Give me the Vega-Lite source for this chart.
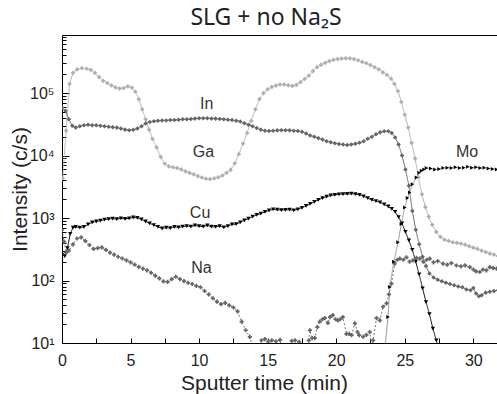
{
"$schema": "https://vega.github.io/schema/vega-lite/v6.json",
"width": 436, "height": 308,
"autosize": "none",
"padding": {"left": 62, "top": 35, "right": 0, "bottom": 51},
"background": "white",
"config": {"view": {"stroke": "#000", "strokeWidth": 1}, "font": "Liberation Sans"},
"title": {"text": "SLG + no Na₂S", "font": "Noto Sans", "fontSize": 23, "fontWeight": "normal", "color": "#222", "anchor": "middle", "dx": -14, "baseline": "alphabetic", "offset": 8, "dy": 27},
"datasets": {
"lab": [{"name":"In","t":10.55,"v":67900},{"name":"Ga","t":10.32,"v":11380},{"name":"Cu","t":10.07,"v":1225},{"name":"Na","t":10.17,"v":156},{"name":"Mo","t":29.54,"v":11380}],
"prof": [
{"s":"In","t":0.05,"v":4300},{"s":"In","t":0.3,"v":25000},{"s":"In","t":0.55,"v":140000},{"s":"In","t":0.8,"v":210000},{"s":"In","t":1.1,"v":240000},{"s":"In","t":1.45,"v":250000},{"s":"In","t":1.8,"v":245000},{"s":"In","t":2.1,"v":235000},{"s":"In","t":2.4,"v":210000},{"s":"In","t":2.7,"v":180000},{"s":"In","t":3.0,"v":157000},{"s":"In","t":3.3,"v":145000},{"s":"In","t":3.6,"v":133000},{"s":"In","t":3.9,"v":123000},{"s":"In","t":4.2,"v":118000},{"s":"In","t":4.5,"v":120000},{"s":"In","t":4.8,"v":128000},{"s":"In","t":5.1,"v":122000},{"s":"In","t":5.35,"v":105000},{"s":"In","t":5.6,"v":80000},{"s":"In","t":5.85,"v":55000},{"s":"In","t":6.1,"v":38000},{"s":"In","t":6.35,"v":26000},{"s":"In","t":6.6,"v":18500},{"s":"In","t":6.9,"v":13500},{"s":"In","t":7.2,"v":9500},{"s":"In","t":7.5,"v":7400},{"s":"In","t":7.8,"v":6700},{"s":"In","t":8.1,"v":6500},{"s":"In","t":8.4,"v":6300},{"s":"In","t":8.7,"v":6000},{"s":"In","t":9.0,"v":5600},{"s":"In","t":9.3,"v":5300},{"s":"In","t":9.6,"v":5000},{"s":"In","t":9.9,"v":4700},{"s":"In","t":10.2,"v":4450},{"s":"In","t":10.5,"v":4250},{"s":"In","t":10.8,"v":4200},{"s":"In","t":11.1,"v":4300},{"s":"In","t":11.4,"v":4500},{"s":"In","t":11.7,"v":4800},{"s":"In","t":12.0,"v":5300},{"s":"In","t":12.3,"v":5900},{"s":"In","t":12.6,"v":7500},{"s":"In","t":12.9,"v":10500},{"s":"In","t":13.2,"v":15500},{"s":"In","t":13.5,"v":23000},{"s":"In","t":13.8,"v":36000},{"s":"In","t":14.1,"v":55000},{"s":"In","t":14.4,"v":80000},{"s":"In","t":14.7,"v":100000},{"s":"In","t":15.0,"v":115000},{"s":"In","t":15.3,"v":125000},{"s":"In","t":15.6,"v":132000},{"s":"In","t":15.9,"v":137000},{"s":"In","t":16.2,"v":137000},{"s":"In","t":16.5,"v":133000},{"s":"In","t":16.8,"v":130000},{"s":"In","t":17.1,"v":135000},{"s":"In","t":17.4,"v":150000},{"s":"In","t":17.7,"v":168000},{"s":"In","t":18.0,"v":190000},{"s":"In","t":18.3,"v":225000},{"s":"In","t":18.6,"v":260000},{"s":"In","t":18.9,"v":285000},{"s":"In","t":19.2,"v":305000},{"s":"In","t":19.5,"v":325000},{"s":"In","t":19.8,"v":340000},{"s":"In","t":20.1,"v":350000},{"s":"In","t":20.4,"v":357000},{"s":"In","t":20.7,"v":360000},{"s":"In","t":21.0,"v":358000},{"s":"In","t":21.3,"v":350000},{"s":"In","t":21.6,"v":335000},{"s":"In","t":21.9,"v":315000},{"s":"In","t":22.2,"v":300000},{"s":"In","t":22.5,"v":280000},{"s":"In","t":22.8,"v":260000},{"s":"In","t":23.1,"v":240000},{"s":"In","t":23.4,"v":215000},{"s":"In","t":23.7,"v":195000},{"s":"In","t":24.0,"v":170000},{"s":"In","t":24.25,"v":140000},{"s":"In","t":24.5,"v":108000},{"s":"In","t":24.75,"v":72000},{"s":"In","t":25.0,"v":45000},{"s":"In","t":25.25,"v":28000},{"s":"In","t":25.5,"v":16000},{"s":"In","t":25.75,"v":9000},{"s":"In","t":26.0,"v":4500},{"s":"In","t":26.25,"v":2400},{"s":"In","t":26.5,"v":1500},{"s":"In","t":26.75,"v":1050},{"s":"In","t":27.0,"v":780},{"s":"In","t":27.3,"v":600},{"s":"In","t":27.6,"v":500},{"s":"In","t":27.9,"v":450},{"s":"In","t":28.2,"v":430},{"s":"In","t":28.5,"v":410},{"s":"In","t":28.8,"v":400},{"s":"In","t":29.1,"v":390},{"s":"In","t":29.4,"v":375},{"s":"In","t":29.7,"v":355},{"s":"In","t":30.0,"v":335},{"s":"In","t":30.3,"v":320},{"s":"In","t":30.6,"v":300},{"s":"In","t":30.9,"v":285},{"s":"In","t":31.2,"v":270},{"s":"In","t":31.5,"v":260},{"s":"In","t":31.8,"v":245},
{"s":"Ga","t":0.0,"v":58000},{"s":"Ga","t":0.25,"v":52000},{"s":"Ga","t":0.5,"v":38000},{"s":"Ga","t":0.75,"v":30000},{"s":"Ga","t":1.0,"v":28000},{"s":"Ga","t":1.3,"v":29500},{"s":"Ga","t":1.6,"v":30500},{"s":"Ga","t":1.9,"v":31000},{"s":"Ga","t":2.2,"v":30500},{"s":"Ga","t":2.5,"v":30500},{"s":"Ga","t":2.8,"v":30000},{"s":"Ga","t":3.1,"v":29500},{"s":"Ga","t":3.4,"v":29000},{"s":"Ga","t":3.7,"v":28500},{"s":"Ga","t":4.0,"v":28000},{"s":"Ga","t":4.3,"v":27000},{"s":"Ga","t":4.6,"v":26000},{"s":"Ga","t":4.9,"v":25500},{"s":"Ga","t":5.2,"v":25800},{"s":"Ga","t":5.5,"v":27000},{"s":"Ga","t":5.8,"v":29500},{"s":"Ga","t":6.1,"v":32500},{"s":"Ga","t":6.4,"v":34500},{"s":"Ga","t":6.7,"v":35500},{"s":"Ga","t":7.0,"v":36000},{"s":"Ga","t":7.3,"v":36500},{"s":"Ga","t":7.6,"v":36500},{"s":"Ga","t":7.9,"v":37000},{"s":"Ga","t":8.2,"v":37000},{"s":"Ga","t":8.5,"v":37500},{"s":"Ga","t":8.8,"v":38000},{"s":"Ga","t":9.1,"v":38000},{"s":"Ga","t":9.4,"v":38500},{"s":"Ga","t":9.7,"v":39000},{"s":"Ga","t":10.0,"v":39500},{"s":"Ga","t":10.3,"v":39500},{"s":"Ga","t":10.6,"v":39500},{"s":"Ga","t":10.9,"v":39000},{"s":"Ga","t":11.2,"v":39000},{"s":"Ga","t":11.5,"v":38500},{"s":"Ga","t":11.8,"v":38000},{"s":"Ga","t":12.1,"v":37500},{"s":"Ga","t":12.4,"v":37000},{"s":"Ga","t":12.7,"v":36000},{"s":"Ga","t":13.0,"v":35000},{"s":"Ga","t":13.3,"v":33000},{"s":"Ga","t":13.6,"v":31000},{"s":"Ga","t":13.9,"v":29500},{"s":"Ga","t":14.2,"v":27500},{"s":"Ga","t":14.5,"v":26000},{"s":"Ga","t":14.8,"v":25000},{"s":"Ga","t":15.1,"v":24800},{"s":"Ga","t":15.4,"v":25000},{"s":"Ga","t":15.7,"v":25300},{"s":"Ga","t":16.0,"v":25500},{"s":"Ga","t":16.3,"v":25500},{"s":"Ga","t":16.6,"v":25300},{"s":"Ga","t":16.9,"v":25000},{"s":"Ga","t":17.2,"v":24800},{"s":"Ga","t":17.5,"v":24000},{"s":"Ga","t":17.8,"v":22500},{"s":"Ga","t":18.1,"v":21000},{"s":"Ga","t":18.4,"v":20000},{"s":"Ga","t":18.7,"v":19000},{"s":"Ga","t":19.0,"v":18000},{"s":"Ga","t":19.3,"v":17000},{"s":"Ga","t":19.6,"v":16300},{"s":"Ga","t":19.9,"v":15800},{"s":"Ga","t":20.2,"v":15300},{"s":"Ga","t":20.5,"v":15000},{"s":"Ga","t":20.8,"v":14800},{"s":"Ga","t":21.1,"v":15000},{"s":"Ga","t":21.4,"v":15500},{"s":"Ga","t":21.7,"v":16000},{"s":"Ga","t":22.0,"v":17000},{"s":"Ga","t":22.3,"v":18500},{"s":"Ga","t":22.6,"v":20000},{"s":"Ga","t":22.9,"v":22000},{"s":"Ga","t":23.2,"v":23500},{"s":"Ga","t":23.5,"v":24500},{"s":"Ga","t":23.8,"v":24500},{"s":"Ga","t":24.05,"v":23000},{"s":"Ga","t":24.3,"v":19500},{"s":"Ga","t":24.55,"v":15000},{"s":"Ga","t":24.8,"v":10000},{"s":"Ga","t":25.05,"v":6000},{"s":"Ga","t":25.3,"v":3300},{"s":"Ga","t":25.55,"v":1300},{"s":"Ga","t":25.8,"v":650},{"s":"Ga","t":26.05,"v":380},{"s":"Ga","t":26.3,"v":240},{"s":"Ga","t":26.55,"v":170},{"s":"Ga","t":26.8,"v":130},{"s":"Ga","t":27.1,"v":112},{"s":"Ga","t":27.4,"v":103},{"s":"Ga","t":27.7,"v":97},{"s":"Ga","t":28.0,"v":92},{"s":"Ga","t":28.3,"v":88},{"s":"Ga","t":28.6,"v":84},{"s":"Ga","t":28.9,"v":80},{"s":"Ga","t":29.2,"v":78},{"s":"Ga","t":29.5,"v":72},{"s":"Ga","t":29.8,"v":70},{"s":"Ga","t":30.0,"v":76},{"s":"Ga","t":30.2,"v":62},{"s":"Ga","t":30.4,"v":56},{"s":"Ga","t":30.6,"v":58},{"s":"Ga","t":30.9,"v":64},{"s":"Ga","t":31.2,"v":66},{"s":"Ga","t":31.5,"v":68},{"s":"Ga","t":31.8,"v":70},
{"s":"Cu","t":0.0,"v":260},{"s":"Cu","t":0.2,"v":245},{"s":"Cu","t":0.4,"v":330},{"s":"Cu","t":0.6,"v":560},{"s":"Cu","t":0.8,"v":700},{"s":"Cu","t":1.0,"v":720},{"s":"Cu","t":1.3,"v":700},{"s":"Cu","t":1.6,"v":720},{"s":"Cu","t":1.9,"v":790},{"s":"Cu","t":2.2,"v":850},{"s":"Cu","t":2.5,"v":880},{"s":"Cu","t":2.8,"v":910},{"s":"Cu","t":3.1,"v":940},{"s":"Cu","t":3.4,"v":960},{"s":"Cu","t":3.7,"v":980},{"s":"Cu","t":4.0,"v":960},{"s":"Cu","t":4.3,"v":990},{"s":"Cu","t":4.6,"v":970},{"s":"Cu","t":4.9,"v":990},{"s":"Cu","t":5.2,"v":1020},{"s":"Cu","t":5.5,"v":1010},{"s":"Cu","t":5.8,"v":950},{"s":"Cu","t":6.1,"v":880},{"s":"Cu","t":6.4,"v":820},{"s":"Cu","t":6.7,"v":770},{"s":"Cu","t":7.0,"v":720},{"s":"Cu","t":7.3,"v":680},{"s":"Cu","t":7.6,"v":700},{"s":"Cu","t":7.9,"v":690},{"s":"Cu","t":8.2,"v":720},{"s":"Cu","t":8.5,"v":710},{"s":"Cu","t":8.8,"v":730},{"s":"Cu","t":9.1,"v":740},{"s":"Cu","t":9.4,"v":730},{"s":"Cu","t":9.7,"v":760},{"s":"Cu","t":10.0,"v":740},{"s":"Cu","t":10.3,"v":730},{"s":"Cu","t":10.6,"v":760},{"s":"Cu","t":10.9,"v":730},{"s":"Cu","t":11.2,"v":720},{"s":"Cu","t":11.5,"v":740},{"s":"Cu","t":11.8,"v":710},{"s":"Cu","t":12.1,"v":740},{"s":"Cu","t":12.4,"v":790},{"s":"Cu","t":12.7,"v":800},{"s":"Cu","t":13.0,"v":850},{"s":"Cu","t":13.3,"v":920},{"s":"Cu","t":13.6,"v":980},{"s":"Cu","t":13.9,"v":1050},{"s":"Cu","t":14.2,"v":1120},{"s":"Cu","t":14.5,"v":1180},{"s":"Cu","t":14.8,"v":1250},{"s":"Cu","t":15.1,"v":1320},{"s":"Cu","t":15.4,"v":1380},{"s":"Cu","t":15.7,"v":1360},{"s":"Cu","t":16.0,"v":1340},{"s":"Cu","t":16.3,"v":1350},{"s":"Cu","t":16.6,"v":1360},{"s":"Cu","t":16.9,"v":1330},{"s":"Cu","t":17.2,"v":1380},{"s":"Cu","t":17.5,"v":1460},{"s":"Cu","t":17.8,"v":1560},{"s":"Cu","t":18.1,"v":1680},{"s":"Cu","t":18.4,"v":1820},{"s":"Cu","t":18.7,"v":1950},{"s":"Cu","t":19.0,"v":2080},{"s":"Cu","t":19.3,"v":2200},{"s":"Cu","t":19.6,"v":2300},{"s":"Cu","t":19.9,"v":2350},{"s":"Cu","t":20.2,"v":2400},{"s":"Cu","t":20.5,"v":2420},{"s":"Cu","t":20.8,"v":2430},{"s":"Cu","t":21.1,"v":2450},{"s":"Cu","t":21.4,"v":2420},{"s":"Cu","t":21.7,"v":2350},{"s":"Cu","t":22.0,"v":2230},{"s":"Cu","t":22.3,"v":2080},{"s":"Cu","t":22.6,"v":1950},{"s":"Cu","t":22.9,"v":1870},{"s":"Cu","t":23.2,"v":1780},{"s":"Cu","t":23.5,"v":1650},{"s":"Cu","t":23.8,"v":1530},{"s":"Cu","t":24.05,"v":1400},{"s":"Cu","t":24.3,"v":1250},{"s":"Cu","t":24.55,"v":1030},{"s":"Cu","t":24.8,"v":820},{"s":"Cu","t":25.05,"v":600},{"s":"Cu","t":25.3,"v":440},{"s":"Cu","t":25.55,"v":310},{"s":"Cu","t":25.8,"v":200},{"s":"Cu","t":26.05,"v":125},{"s":"Cu","t":26.3,"v":75},{"s":"Cu","t":26.55,"v":45},{"s":"Cu","t":26.8,"v":29},{"s":"Cu","t":27.05,"v":17},{"s":"Cu","t":27.3,"v":11},{"s":"Cu","t":27.5,"v":8},
{"s":"Na","t":0.0,"v":650},{"s":"Na","t":0.15,"v":420},{"s":"Na","t":0.3,"v":280},{"s":"Na","t":0.5,"v":300},{"s":"Na","t":0.8,"v":380},{"s":"Na","t":1.1,"v":470},{"s":"Na","t":1.4,"v":490},{"s":"Na","t":1.7,"v":430},{"s":"Na","t":2.0,"v":370},{"s":"Na","t":2.3,"v":320},{"s":"Na","t":2.6,"v":330},{"s":"Na","t":2.9,"v":340},{"s":"Na","t":3.2,"v":310},{"s":"Na","t":3.5,"v":280},{"s":"Na","t":3.8,"v":260},{"s":"Na","t":4.1,"v":240},{"s":"Na","t":4.4,"v":225},{"s":"Na","t":4.7,"v":210},{"s":"Na","t":5.0,"v":195},{"s":"Na","t":5.3,"v":180},{"s":"Na","t":5.6,"v":165},{"s":"Na","t":5.9,"v":155},{"s":"Na","t":6.2,"v":145},{"s":"Na","t":6.5,"v":133},{"s":"Na","t":6.8,"v":120},{"s":"Na","t":7.1,"v":108},{"s":"Na","t":7.4,"v":97},{"s":"Na","t":7.7,"v":95},{"s":"Na","t":8.0,"v":105},{"s":"Na","t":8.3,"v":115},{"s":"Na","t":8.6,"v":105},{"s":"Na","t":8.9,"v":98},{"s":"Na","t":9.2,"v":92},{"s":"Na","t":9.5,"v":88},{"s":"Na","t":9.8,"v":82},{"s":"Na","t":10.1,"v":78},{"s":"Na","t":10.4,"v":68},{"s":"Na","t":10.7,"v":60},{"s":"Na","t":11.0,"v":52},{"s":"Na","t":11.3,"v":46},{"s":"Na","t":11.6,"v":42},{"s":"Na","t":11.9,"v":44},{"s":"Na","t":12.2,"v":40},{"s":"Na","t":12.5,"v":37},{"s":"Na","t":12.8,"v":32},{"s":"Na","t":13.1,"v":22},{"s":"Na","t":13.4,"v":16},{"s":"Na","t":13.7,"v":12.5},{"s":"Na","t":14.0,"v":7},{"s":"Na","t":14.3,"v":7},{"s":"Na","t":14.55,"v":11},{"s":"Na","t":14.8,"v":11.5},{"s":"Na","t":15.05,"v":10.5},{"s":"Na","t":15.3,"v":11},{"s":"Na","t":15.6,"v":10.6},{"s":"Na","t":15.9,"v":11.2},{"s":"Na","t":16.1,"v":7},{"s":"Na","t":16.5,"v":7},{"s":"Na","t":16.75,"v":10.8},{"s":"Na","t":17.0,"v":11},{"s":"Na","t":17.3,"v":10.4},{"s":"Na","t":17.5,"v":7},{"s":"Na","t":17.8,"v":7},{"s":"Na","t":18.0,"v":11},{"s":"Na","t":18.08,"v":16},{"s":"Na","t":18.25,"v":12},{"s":"Na","t":18.44,"v":12},{"s":"Na","t":18.62,"v":18},{"s":"Na","t":18.8,"v":22},{"s":"Na","t":19.0,"v":24},{"s":"Na","t":19.17,"v":25},{"s":"Na","t":19.39,"v":21},{"s":"Na","t":19.55,"v":26},{"s":"Na","t":19.75,"v":28},{"s":"Na","t":19.95,"v":24},{"s":"Na","t":20.12,"v":23},{"s":"Na","t":20.3,"v":24},{"s":"Na","t":20.48,"v":26},{"s":"Na","t":20.75,"v":14},{"s":"Na","t":20.95,"v":14},{"s":"Na","t":21.12,"v":13.4},{"s":"Na","t":21.36,"v":20.6},{"s":"Na","t":21.55,"v":15},{"s":"Na","t":21.67,"v":13.4},{"s":"Na","t":21.96,"v":12.6},{"s":"Na","t":22.2,"v":13.5},{"s":"Na","t":22.45,"v":15},{"s":"Na","t":22.6,"v":7},{"s":"Na","t":22.69,"v":11},{"s":"Na","t":22.94,"v":25},{"s":"Na","t":23.18,"v":23},{"s":"Na","t":23.42,"v":38},{"s":"Na","t":23.67,"v":43},{"s":"Na","t":23.85,"v":60},{"s":"Na","t":24.03,"v":89},{"s":"Na","t":24.27,"v":186},{"s":"Na","t":24.45,"v":215},{"s":"Na","t":24.64,"v":224},{"s":"Na","t":24.9,"v":215},{"s":"Na","t":25.12,"v":236},{"s":"Na","t":25.35,"v":200},{"s":"Na","t":25.6,"v":210},{"s":"Na","t":25.85,"v":230},{"s":"Na","t":26.09,"v":224},{"s":"Na","t":26.35,"v":200},{"s":"Na","t":26.6,"v":215},{"s":"Na","t":26.82,"v":224},{"s":"Na","t":27.1,"v":195},{"s":"Na","t":27.4,"v":205},{"s":"Na","t":27.79,"v":186},{"s":"Na","t":28.1,"v":180},{"s":"Na","t":28.4,"v":190},{"s":"Na","t":28.77,"v":174},{"s":"Na","t":29.1,"v":168},{"s":"Na","t":29.4,"v":175},{"s":"Na","t":29.74,"v":164},{"s":"Na","t":30.0,"v":150},{"s":"Na","t":30.2,"v":140},{"s":"Na","t":30.47,"v":137},{"s":"Na","t":30.7,"v":150},{"s":"Na","t":30.95,"v":145},{"s":"Na","t":31.2,"v":164},{"s":"Na","t":31.45,"v":158},{"s":"Na","t":31.7,"v":155},
{"s":"Mo","t":23.45,"v":5},{"s":"Mo","t":23.78,"v":26},{"s":"Mo","t":23.91,"v":79},{"s":"Mo","t":24.2,"v":200},{"s":"Mo","t":24.51,"v":410},{"s":"Mo","t":24.75,"v":800},{"s":"Mo","t":25.0,"v":1480},{"s":"Mo","t":25.2,"v":2100},{"s":"Mo","t":25.36,"v":2570},{"s":"Mo","t":25.56,"v":3470},{"s":"Mo","t":25.85,"v":4470},{"s":"Mo","t":26.05,"v":5300},{"s":"Mo","t":26.22,"v":5700},{"s":"Mo","t":26.4,"v":6000},{"s":"Mo","t":26.58,"v":6300},{"s":"Mo","t":26.9,"v":6200},{"s":"Mo","t":27.2,"v":6000},{"s":"Mo","t":27.5,"v":6100},{"s":"Mo","t":27.8,"v":6300},{"s":"Mo","t":28.1,"v":6400},{"s":"Mo","t":28.4,"v":6300},{"s":"Mo","t":28.7,"v":6500},{"s":"Mo","t":29.0,"v":6300},{"s":"Mo","t":29.3,"v":6400},{"s":"Mo","t":29.6,"v":6600},{"s":"Mo","t":29.9,"v":6400},{"s":"Mo","t":30.2,"v":6500},{"s":"Mo","t":30.5,"v":6300},{"s":"Mo","t":30.8,"v":6400},{"s":"Mo","t":31.1,"v":6200},{"s":"Mo","t":31.4,"v":6100},{"s":"Mo","t":31.7,"v":6000}
]},
"encoding": {
"x": {"field": "t", "type": "quantitative", "scale": {"domain": [0, 31.8], "nice": false, "zero": false},
 "axis": {"title": "Sputter time (min)", "values": [0,2.5,5,7.5,10,12.5,15,17.5,20,22.5,25,27.5,30], "labelExpr": "datum.value % 5 === 0 ? format(datum.value, 'd') : ''", "tickSize": -5, "tickColor": "#000", "domainColor": "#000", "labelPadding": 14, "labelFontSize": 16, "labelColor": "#222", "labelFont": "Liberation Sans", "labelFlush": false, "labelOverlap": false, "titleFontSize": 21, "titleFont": "Liberation Sans", "titleFontWeight": "normal", "titleColor": "#222", "titlePadding": 4, "titleX": 202, "grid": false}},
"y": {"field": "v", "type": "quantitative", "scale": {"type": "log", "domain": [10, 850000], "nice": false},
 "axis": {"title": "Intensity (c/s)", "values": [10,20,30,40,50,60,70,80,90,100,200,300,400,500,600,700,800,900,1000,2000,3000,4000,5000,6000,7000,8000,9000,10000,20000,30000,40000,50000,60000,70000,80000,90000,100000,200000,300000,400000,500000,600000,700000,800000],
 "labelExpr": "datum.value===10?'10¹':datum.value===100?'10²':datum.value===1000?'10³':datum.value===10000?'10⁴':datum.value===100000?'10⁵':''",
 "tickSize": {"condition": {"test": "datum.value===10||datum.value===100||datum.value===1000||datum.value===10000||datum.value===100000", "value": -7}, "value": -4},
 "tickColor": "#000", "domainColor": "#000", "labelPadding": 15, "labelFontSize": 16, "labelColor": "#222", "labelFont": "Liberation Sans", "labelOverlap": false, "labelBound": false, "titleFontSize": 21, "titleFont": "Liberation Sans", "titleFontWeight": "normal", "titleColor": "#222", "titlePadding": -1, "grid": false}}
},
"layer": [
{"data": {"name": "prof"}, "mark": {"type": "line", "strokeWidth": 1, "clip": true},
 "encoding": {
  "stroke": {"field": "s", "type": "nominal", "scale": {"domain": ["In","Ga","Cu","Na","Mo"], "range": ["#b5b5b5","#6b6b6b","#111111","#777777","#9a9a9a"]}, "legend": null},
  "strokeDash": {"field": "s", "type": "nominal", "scale": {"domain": ["In","Ga","Cu","Na","Mo"], "range": [[1,0],[1,0],[1,0],[2,2],[1,0]]}, "legend": null},
  "order": {"field": "t", "type": "quantitative"}}},
{"data": {"name": "prof"}, "mark": {"type": "point", "filled": true, "clip": true, "strokeWidth": 0, "opacity": 1},
 "encoding": {
  "fill": {"field": "s", "type": "nominal", "scale": {"domain": ["In","Ga","Cu","Na","Mo"], "range": ["#b0b0b0","#666666","#000000","#666666","#000000"]}, "legend": null},
  "shape": {"field": "s", "type": "nominal", "scale": {"domain": ["In","Ga","Cu","Na","Mo"], "range": ["diamond","diamond","triangle-down","cross","triangle-right"]}, "legend": null},
  "size": {"field": "s", "type": "nominal", "scale": {"domain": ["In","Ga","Cu","Na","Mo"], "range": [22,16,20,6,20]}, "legend": null}}},
{"data": {"name": "lab"}, "mark": {"type": "text", "fontSize": 16, "font": "Liberation Sans", "color": "#333", "align": "center", "baseline": "middle"},
 "encoding": {"text": {"field": "name"}}}
]
}
